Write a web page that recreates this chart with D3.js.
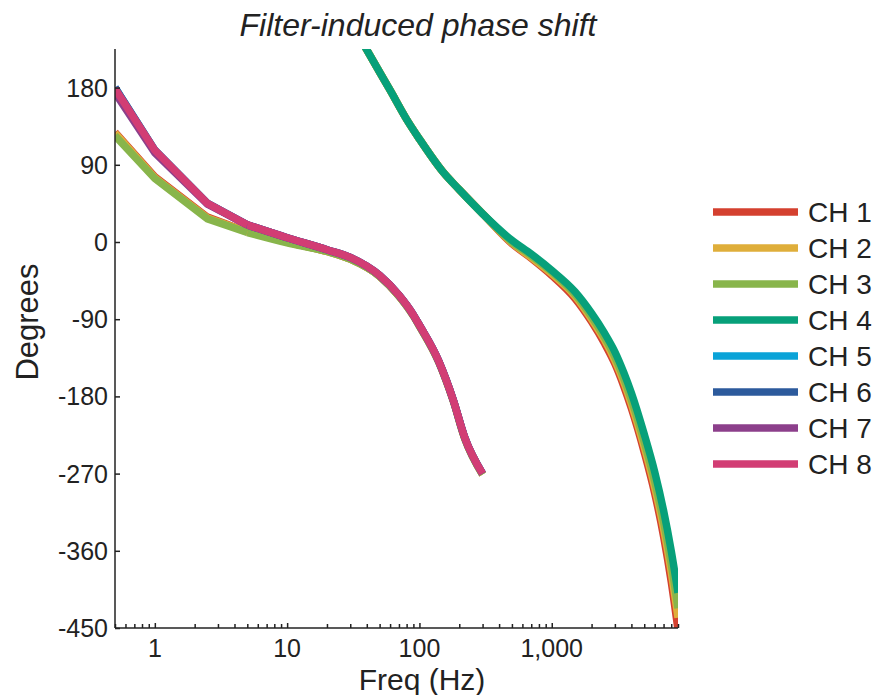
<!DOCTYPE html>
<html lang="en">
<head>
  <meta charset="UTF-8">
  <title>Filter-induced phase shift</title>
  <script src="https://d3js.org/d3.v7.min.js"></script>
  <style>
    body{margin:0;background:#fff;font-family:"Liberation Sans",Arial,Helvetica,sans-serif}
    svg{display:block}
    .axis path,.axis line{stroke:#222;stroke-width:1.5px}
    .axis text{font-size:25px;fill:#222}
    .series{fill:none;stroke-width:7.5px}
  </style>
</head>
<body>
<div id="chart"></div>
<script>
/* --- data --- */
const channels = ["CH 1","CH 2","CH 3","CH 4","CH 5","CH 6","CH 7","CH 8"];
const colors   = ["#d4402f","#dfae3a","#88b54b","#07a07a","#0aa3d8","#2c5a9c","#8c3f8b","#d23d74"];

// low-frequency filter response (0.5 – 300 Hz)
const freqLow = [0.5, 1, 2.5, 5, 10, 20, 30, 50, 70, 90, 100, 140, 180, 220, 300];
const lowCh1  = [128, 76, 29, 12, 0, -11, -20, -40, -63, -86, -98, -140, -185, -229, -271];
const lowCh2  = [127, 75, 28, 12, 0, -11, -20, -40, -63, -86, -98, -140, -185, -229, -271];
const lowCh3  = [124, 74, 27, 11, -1, -11, -20, -40, -63, -86, -98, -140, -185, -229, -271];
const lowCh5  = [180, 107, 45, 20, 5, -9, -18, -39, -62, -85, -97, -139, -184, -228, -270];
const lowCh6  = [180, 107, 45, 20, 5, -9, -18, -39, -62, -85, -97, -139, -184, -228, -270];
const lowCh7  = [174, 104, 44, 20, 5, -9, -18, -39, -62, -85, -97, -139, -184, -228, -270];
const lowCh8  = [179, 107, 45, 20, 5, -9, -18, -39, -62, -85, -97, -139, -184, -228, -270];

// high-frequency filter response (38 Hz – 9 kHz)
const freqHigh = [38, 50, 60, 80, 100, 150, 200, 300, 500, 700, 1000, 1500, 2000, 2500, 3000, 3500, 4000, 5000, 6000, 7000, 8000, 9000];
const highCh1  = [230, 198, 177, 143, 120, 82, 61, 33, -2, -19, -39, -66, -93, -118, -142, -168, -194, -245, -293, -343, -396, -452];
const highCh2  = [230, 198, 177, 143, 120, 82, 61, 33, -1, -18, -37, -63, -90, -114, -138, -163, -189, -239, -286, -334, -385, -438];
const highCh3  = [230, 198, 177, 143, 120, 82, 61, 33, 0, -16, -35, -61, -87, -111, -134, -159, -184, -233, -279, -326, -375, -427];
const highCh4  = [230, 198, 177, 143, 120, 82, 61, 33, 2, -14, -33, -58, -83, -106, -128, -152, -176, -224, -268, -313, -360, -409];

const yTicks = [-450, -360, -270, -180, -90, 0, 90, 180];
const xTicks = [1, 10, 100, 1000];

// segments drawn for each channel (low segments: straight up to 5 Hz, smooth after)
const seriesData = [
  {ch:0, f:freqLow,  v:lowCh1, low:true}, {ch:0, f:freqHigh, v:highCh1},
  {ch:1, f:freqLow,  v:lowCh2, low:true}, {ch:1, f:freqHigh, v:highCh2},
  {ch:2, f:freqLow,  v:lowCh3, low:true}, {ch:2, f:freqHigh, v:highCh3},
  {ch:3, f:freqHigh, v:highCh4},
  {ch:4, f:freqLow,  v:lowCh5, low:true},
  {ch:5, f:freqLow,  v:lowCh6, low:true},
  {ch:6, f:freqLow,  v:lowCh7, low:true},
  {ch:7, f:freqLow,  v:lowCh8, low:true}
];

/* --- layout --- */
const W = 878, H = 695;
const plot = {left:115, right:678, top:49, bottom:628};

const svg = d3.select("#chart").append("svg").attr("width", W).attr("height", H);

const x = d3.scaleLog().domain([0.5, 9000]).range([plot.left, plot.right]);
const y = d3.scaleLinear().domain([-450, 225]).range([plot.bottom, plot.top]);

svg.append("clipPath").attr("id","clip")
   .append("rect").attr("x", plot.left).attr("y", plot.top)
   .attr("width", plot.right - plot.left).attr("height", plot.bottom - plot.top);

/* --- lines --- */
const straight = d3.line().x(d => x(d[0])).y(d => y(d[1]));
const smooth = d3.line().x(d => x(d[0])).y(d => y(d[1])).curve(d3.curveMonotoneX);
const g = svg.append("g").attr("clip-path","url(#clip)");
seriesData.forEach(s => {
  const pts = s.f.map((f,i) => [f, s.v[i]]);
  const grp = g.append("g").attr("stroke", colors[s.ch]);
  if (s.low) {
    grp.append("path").attr("class","series").attr("d", straight(pts.slice(0,4)));
    grp.append("path").attr("class","series").attr("d", smooth(pts.slice(3)));
  } else {
    grp.append("path").attr("class","series").attr("d", smooth(pts));
  }
});

/* --- axes (ticks point inward) --- */
const minor = [];
[0.1, 1, 10, 100, 1000].forEach(dec => {
  for (let k = 2; k <= 9; k++) {
    const t = dec * k;
    if (t >= 0.5 && t <= 9000) minor.push(t);
  }
});

const xAxisG = svg.append("g").attr("class","axis")
  .attr("transform", `translate(0,${plot.bottom})`);
xAxisG.call(d3.axisTop(x).tickValues(minor).tickSize(4).tickFormat(""))
  .select(".domain").remove();
xAxisG.append("g")
  .call(d3.axisTop(x).tickValues(xTicks).tickSize(5).tickFormat(""))
  .select(".domain").remove();
xAxisG.append("line").attr("x1", plot.left).attr("x2", plot.right)
  .attr("stroke", "#222").attr("stroke-width", 1.5);
xAxisG.selectAll(".xlab").data(xTicks).enter().append("text")
  .attr("class","xlab").attr("x", d => x(d)).attr("y", 29)
  .attr("text-anchor","middle").text(d => d3.format(",")(d));

const yAxisG = svg.append("g").attr("class","axis")
  .attr("transform", `translate(${plot.left},0)`);
yAxisG.call(d3.axisRight(y).tickValues(yTicks).tickSize(5).tickFormat(""))
  .select(".domain").remove();
yAxisG.append("line").attr("y1", plot.top).attr("y2", plot.bottom)
  .attr("stroke", "#222").attr("stroke-width", 1.5);
yAxisG.selectAll(".ylab").data(yTicks).enter().append("text")
  .attr("class","ylab").attr("x", -7).attr("y", d => y(d)).attr("dy","0.36em")
  .attr("text-anchor","end").text(d => d);

/* --- titles --- */
svg.append("text").attr("x", 418).attr("y", 36)
   .attr("text-anchor","middle").style("font-size","32px").style("font-style","italic")
   .attr("fill","#222").text("Filter-induced phase shift");
svg.append("text").attr("x", 422).attr("y", 690)
   .attr("text-anchor","middle").style("font-size","30px")
   .attr("fill","#222").text("Freq (Hz)");
svg.append("text").attr("transform","translate(38,322) rotate(-90)")
   .attr("text-anchor","middle").style("font-size","31px")
   .attr("fill","#222").text("Degrees");

/* --- legend --- */
const leg = svg.append("g").attr("transform","translate(713,212)");
channels.forEach((c,i) => {
  const row = leg.append("g").attr("transform",`translate(0,${i*36})`);
  row.append("line").attr("x1",0).attr("x2",85).attr("y1",0).attr("y2",0)
     .attr("stroke", colors[i]).attr("stroke-width",7.5);
  row.append("text").attr("x",95).attr("y",0).attr("dy","0.36em")
     .style("font-size","28px").attr("fill","#222").text(c);
});
</script>
</body>
</html>
